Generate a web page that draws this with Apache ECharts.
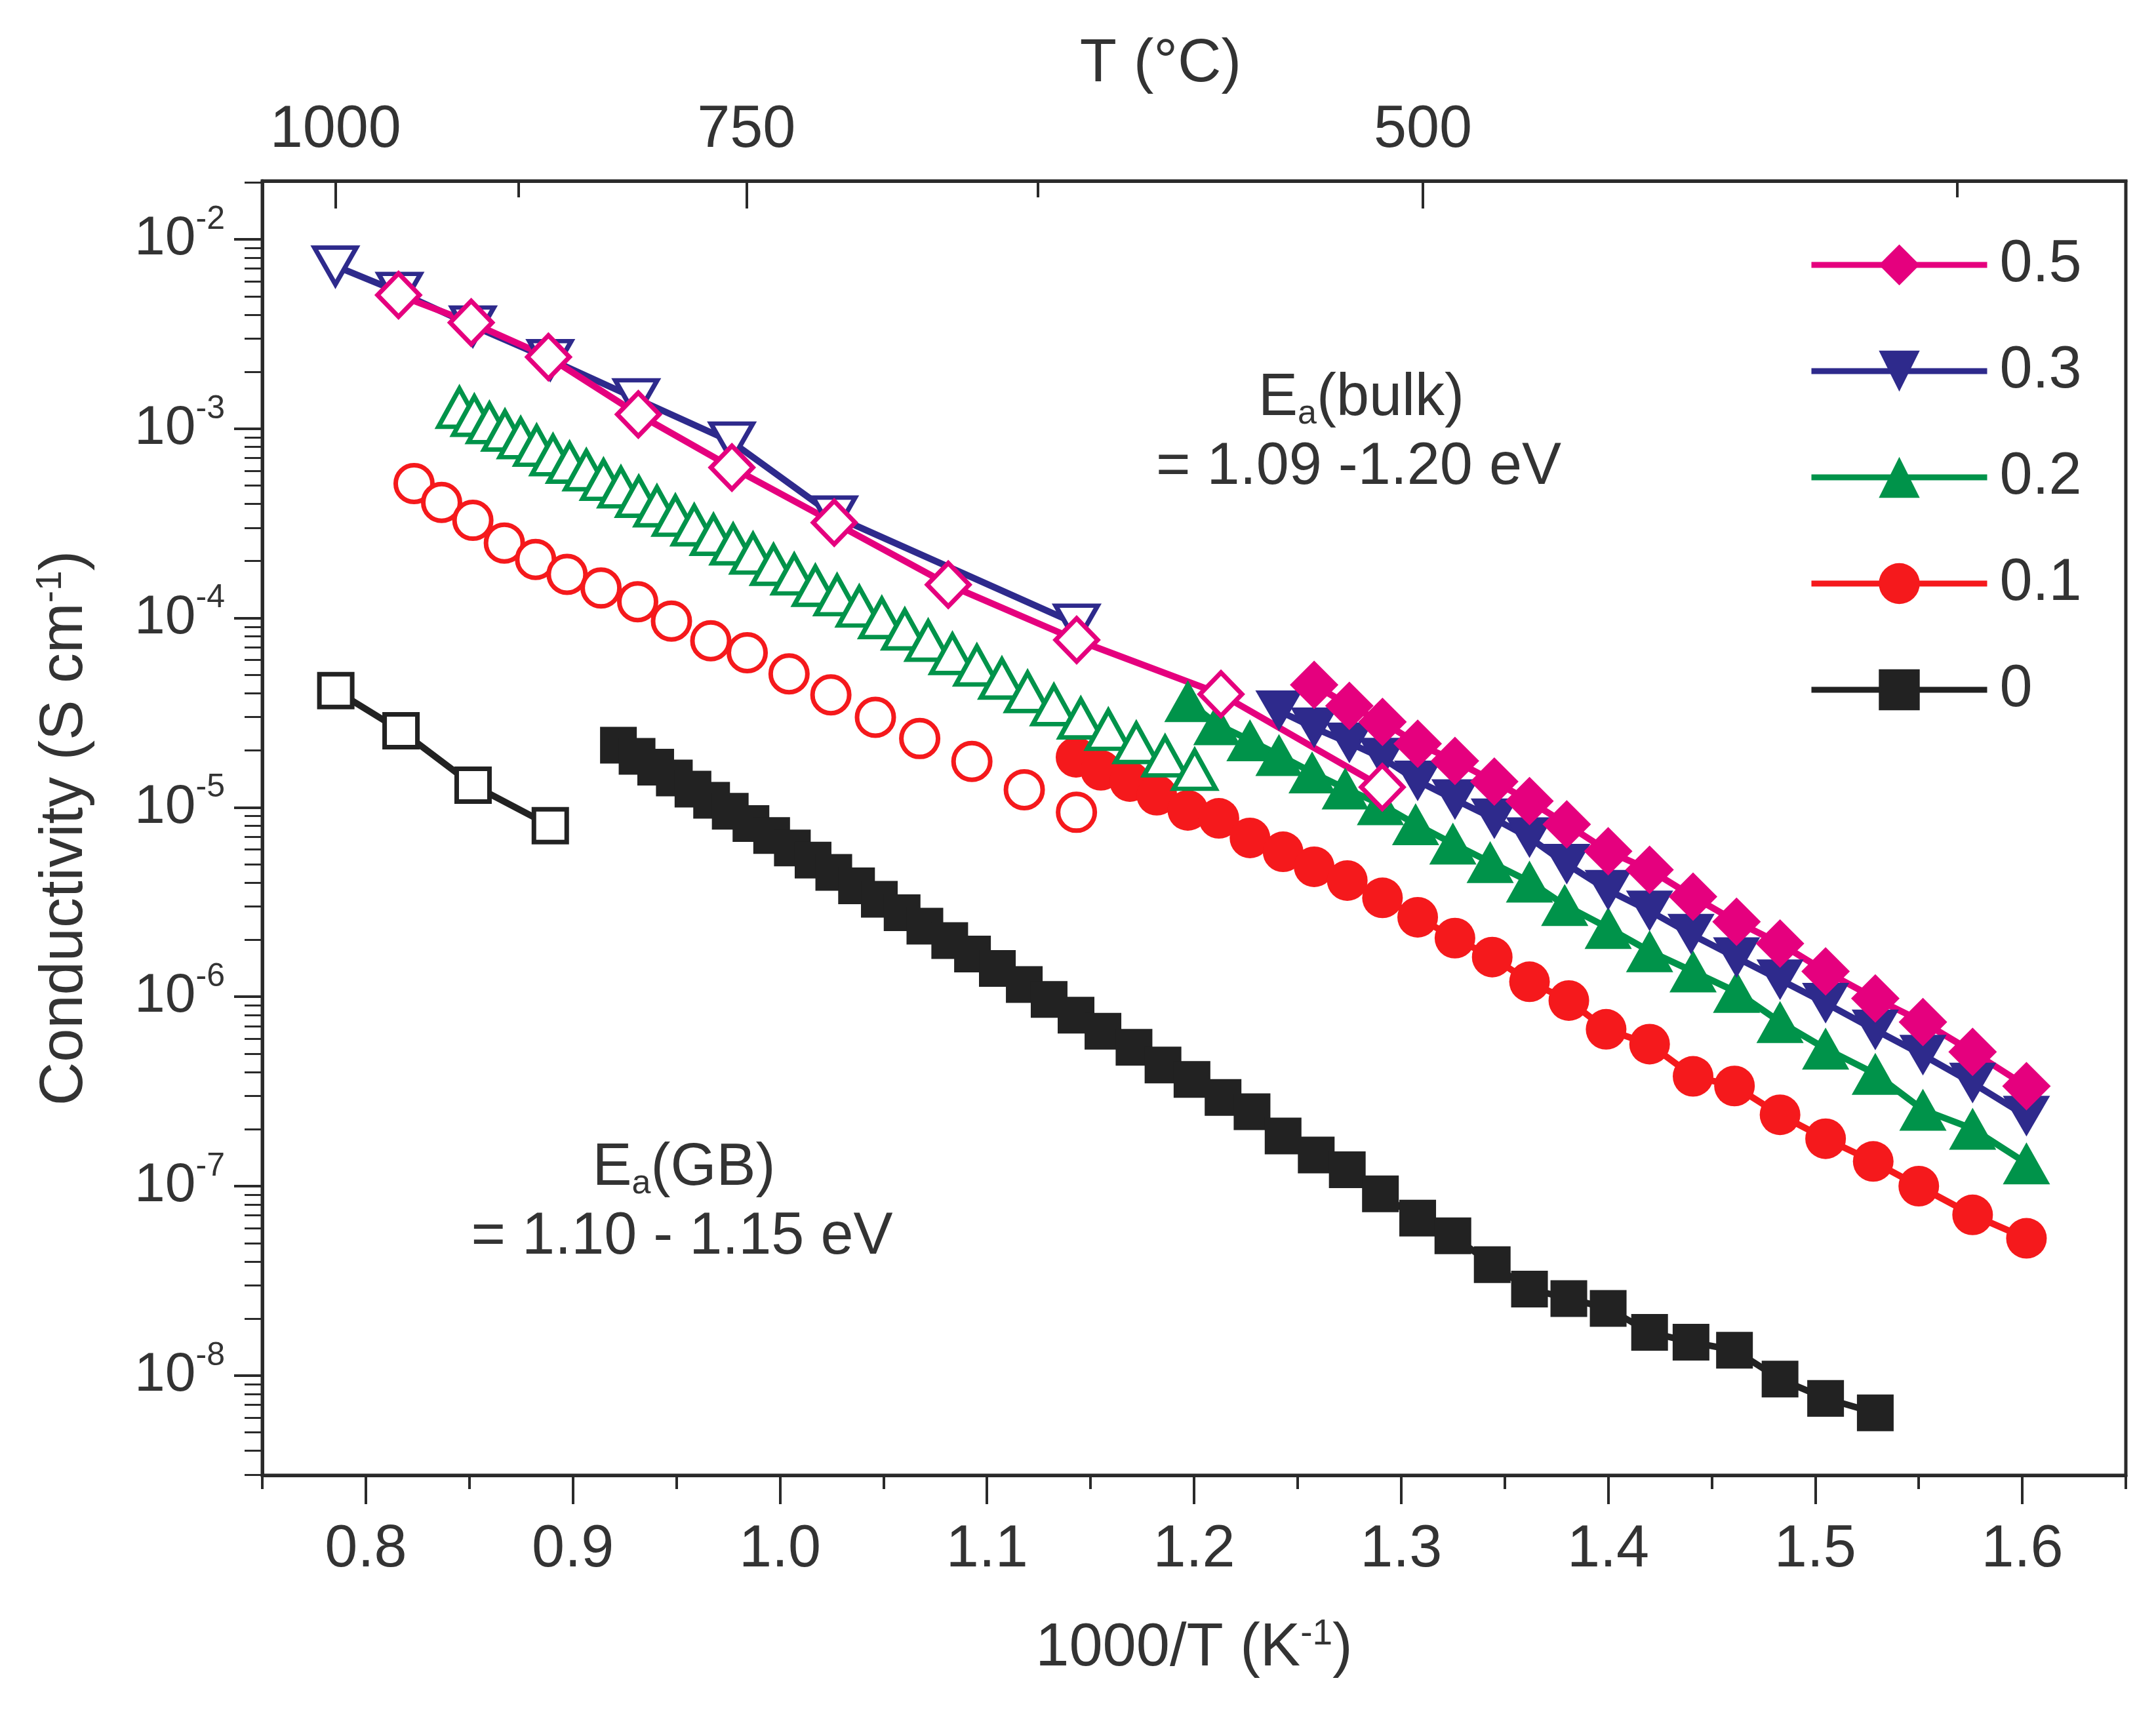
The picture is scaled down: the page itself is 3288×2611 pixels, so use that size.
<!DOCTYPE html>
<html>
<head>
<meta charset="utf-8">
<script src="https://cdn.jsdelivr.net/npm/echarts@6/dist/echarts.min.js"></script>
<style>
html, body { margin: 0; padding: 0; background: #fff; }
#chart { width: 3288px; height: 2611px; }
</style>
</head>
<body>
<div id="chart"></div>
<script>

// conductivity vs 1000/T, x in K^-1, y in S cm^-1

var legendNames = ['0.5', '0.3', '0.2', '0.1', '0'];

var x05Filled = [1.258, 1.275, 1.291, 1.308, 1.326, 1.345, 1.362, 1.380, 1.400, 1.420, 1.441, 1.462, 1.483, 1.505, 1.529, 1.552, 1.576, 1.602];
var y05Filled = [4.44e-5, 3.44e-5, 2.83e-5, 2.17e-5, 1.76e-5, 1.37e-5, 1.08e-5, 8.13e-6, 5.87e-6, 4.68e-6, 3.38e-6, 2.49e-6, 1.91e-6, 1.36e-6, 9.8e-7, 7.36e-7, 5.12e-7, 3.37e-7];
var x05Open = [0.8158, 0.8509, 0.8882, 0.9316, 0.9768, 1.0262, 1.0813, 1.1433, 1.2130, 1.2909];
var y05Open = [5.08e-3, 3.63e-3, 2.39e-3, 1.19e-3, 6.24e-4, 3.19e-4, 1.50e-4, 7.66e-5, 3.96e-5, 1.28e-5];

var x03Filled = [1.241, 1.258, 1.275, 1.291, 1.308, 1.326, 1.345, 1.362, 1.380, 1.400, 1.420, 1.440, 1.462, 1.483, 1.505, 1.529, 1.552, 1.576, 1.602];
var y03Filled = [3.24e-5, 2.63e-5, 2.19e-5, 1.82e-5, 1.38e-5, 1.10e-5, 8.71e-6, 6.92e-6, 5.01e-6, 3.65e-6, 2.84e-6, 2.14e-6, 1.61e-6, 1.23e-6, 9.25e-7, 6.68e-7, 4.92e-7, 3.50e-7, 2.34e-7];
var x03Open = [0.7853, 0.8163, 0.8517, 0.8891, 0.9306, 0.9768, 1.0262, 1.1433];
var y03Open = [7.23e-3, 5.25e-3, 3.49e-3, 2.32e-3, 1.44e-3, 8.51e-4, 3.46e-4, 9.3e-5];

var x02Filled = [1.197, 1.211, 1.227, 1.241, 1.257, 1.273, 1.290, 1.307, 1.325, 1.343, 1.362, 1.379, 1.400, 1.420, 1.441, 1.462, 1.483, 1.505, 1.529, 1.552, 1.576, 1.602];
var y02Filled = [3.64e-5, 2.75e-5, 2.26e-5, 1.89e-5, 1.53e-5, 1.26e-5, 1.04e-5, 8.15e-6, 6.44e-6, 5.14e-6, 4.06e-6, 3.05e-6, 2.31e-6, 1.74e-6, 1.36e-6, 1.06e-6, 7.36e-7, 5.32e-7, 3.92e-7, 2.53e-7, 2.01e-7, 1.32e-7];
var x02Open = [0.8452, 0.8524, 0.8597, 0.8672, 0.8748, 0.8825, 0.8904, 0.8984, 0.9065, 0.9148, 0.9232, 0.9318, 0.9406, 0.9495, 0.9586, 0.9679, 0.9774, 0.9870, 0.9969, 1.0069, 1.0171, 1.0276, 1.0383, 1.0492, 1.0603, 1.0716, 1.0833, 1.0951, 1.1072, 1.1196, 1.1323, 1.1453, 1.1586, 1.1721, 1.1860, 1.2003];
var y02Open = [1.29e-3, 1.17e-3, 1.07e-3, 9.77e-4, 8.91e-4, 8.13e-4, 7.24e-4, 6.61e-4, 6.03e-4, 5.37e-4, 4.90e-4, 4.37e-4, 3.89e-4, 3.47e-4, 3.09e-4, 2.75e-4, 2.45e-4, 2.19e-4, 1.91e-4, 1.70e-4, 1.48e-4, 1.32e-4, 1.15e-4, 1.00e-4, 8.71e-5, 7.59e-5, 6.46e-5, 5.62e-5, 4.79e-5, 4.07e-5, 3.47e-5, 2.95e-5, 2.57e-5, 2.19e-5, 1.86e-5, 1.58e-5];

var x01Filled = [1.143, 1.155, 1.169, 1.182, 1.197, 1.212, 1.227, 1.243, 1.258, 1.274, 1.291, 1.308, 1.326, 1.344, 1.362, 1.381, 1.399, 1.420, 1.441, 1.461, 1.483, 1.505, 1.528, 1.550, 1.576, 1.602];
var y01Filled = [1.84e-5, 1.57e-5, 1.37e-5, 1.16e-5, 9.64e-6, 8.75e-6, 6.90e-6, 5.83e-6, 4.86e-6, 4.11e-6, 3.33e-6, 2.63e-6, 2.04e-6, 1.62e-6, 1.20e-6, 9.55e-7, 6.73e-7, 5.62e-7, 3.80e-7, 3.38e-7, 2.38e-7, 1.78e-7, 1.35e-7, 1.00e-7, 7.05e-8, 5.30e-8];
var x01Open = [0.8233, 0.8366, 0.8517, 0.8669, 0.8820, 0.8972, 0.9136, 0.9313, 0.9476, 0.9666, 0.9842, 1.0044, 1.0246, 1.0461, 1.0675, 1.0927, 1.1180, 1.1432];
var y01Open = [5.13e-4, 4.08e-4, 3.28e-4, 2.49e-4, 2.04e-4, 1.70e-4, 1.44e-4, 1.22e-4, 9.64e-5, 7.59e-5, 6.56e-5, 5.07e-5, 3.93e-5, 2.99e-5, 2.31e-5, 1.75e-5, 1.24e-5, 9.42e-6];

var x0Filled = [0.922, 0.931, 0.940, 0.949, 0.958, 0.967, 0.976, 0.986, 0.996, 1.006, 1.016, 1.026, 1.037, 1.048, 1.059, 1.070, 1.082, 1.093, 1.105, 1.118, 1.130, 1.143,
                1.156, 1.171, 1.185, 1.199, 1.214, 1.228, 1.243, 1.259, 1.274, 1.290, 1.308, 1.325, 1.344, 1.362, 1.381, 1.400, 1.420, 1.440, 1.461, 1.483, 1.505, 1.529];
var y0Filled = [2.13e-5, 1.86e-5, 1.63e-5, 1.43e-5, 1.25e-5, 1.09e-5, 9.55e-6, 8.22e-6, 7.10e-6, 6.11e-6, 5.27e-6, 4.54e-6, 3.85e-6, 3.27e-6, 2.78e-6, 2.36e-6, 1.98e-6, 1.68e-6, 1.41e-6, 1.16e-6, 9.68e-7, 8.00e-7,
                6.58e-7, 5.41e-7, 4.36e-7, 3.66e-7, 2.94e-7, 2.47e-7, 1.84e-7, 1.46e-7, 1.22e-7, 9.10e-8, 6.78e-8, 5.47e-8, 3.85e-8, 2.86e-8, 2.55e-8, 2.26e-8, 1.69e-8, 1.50e-8, 1.36e-8, 9.57e-9, 7.57e-9, 6.35e-9];
var x0Open = [0.7855, 0.8170, 0.8518, 0.8891];
var y0Open = [4.14e-5, 2.54e-5, 1.31e-5, 8.0e-6];

// axes
var xTicks = [0.8, 0.9, 1.0, 1.1, 1.2, 1.3, 1.4, 1.5, 1.6];
var xMinorTicks = [0.75, 0.85, 0.95, 1.05, 1.15, 1.25, 1.35, 1.45, 1.55, 1.65];
var yTickExps = [-8, -7, -6, -5, -4, -3, -2];
var topTempMajor = [1000, 750, 500];
var topTempMinor = [875, 625, 375];

var yMinExp = -8.527, yMaxExp = -1.692;

var FONT = '"Liberation Sans", Arial, sans-serif';
var TXT = '#333333';
var AX = '#2a2a2a';
var LW = 10;

function invT(t) { return 1000 / (t + 273.15); }

var yMinor = [];
for (var n = -9; n <= -2; n++) {
    for (var k = 2; k <= 9; k++) {
        var e = n + Math.log10(k);
        if (e > yMinExp && e < yMaxExp) yMinor.push(e);
    }
}

function pairs(xs, ys) {
    return xs.map(function (x, i) { return [x, ys[i]]; });
}

function makeSeries(name, xs, ys, shape, size, color, filled, lineOn) {
    return {
        name: name,
        type: 'line',
        xAxisIndex: 0,
        yAxisIndex: 0,
        data: pairs(xs, ys),
        symbol: shape === 'down' ? 'triangle' : shape,
        symbolRotate: shape === 'down' ? 180 : 0,
        symbolSize: size,
        showSymbol: true,
        itemStyle: filled ? { color: color } : { color: '#ffffff', borderColor: color, borderWidth: 7 },
        lineStyle: { color: color, width: LW, opacity: lineOn ? 1 : 0 },
        emphasis: { disabled: true }
    };
}

var cMag = '#e5007e', cNavy = '#2e2a8c', cGreen = '#00934a', cRed = '#f5191c', cBlack = '#222222';

var series = [
    makeSeries('0', x0Filled, y0Filled, 'rect', 56, cBlack, true, true),
    makeSeries('0.1', x01Filled, y01Filled, 'circle', 62, cRed, true, true),
    makeSeries('0.2', x02Filled, y02Filled, 'triangle', [72, 64], cGreen, true, true),
    makeSeries('0.3', x03Filled, y03Filled, 'down', [72, 62], cNavy, true, true),
    makeSeries('0.5', x05Filled, y05Filled, 'diamond', [74, 74], cMag, true, true),
    makeSeries('0', x0Open, y0Open, 'rect', 50, cBlack, false, true),
    makeSeries('0.1', x01Open, y01Open, 'circle', 56, cRed, false, false),
    makeSeries('0.2', x02Open, y02Open, 'triangle', [64, 58], cGreen, false, false),
    makeSeries('0.3', x03Open, y03Open, 'down', [64, 56], cNavy, false, true),
    makeSeries('0.5', x05Open, y05Open, 'diamond', [64, 66], cMag, false, true)
];

var supName = {
    n: { fontSize: 92, fontFamily: FONT, color: TXT, lineHeight: 100 },
    p: { fontSize: 55, fontFamily: FONT, color: TXT, lineHeight: 55, verticalAlign: 'top' }
};

var myChart = echarts.init(document.getElementById('chart'));

var option = {
    animation: false,
    backgroundColor: '#ffffff',
    grid: {
        left: 400, right: 46, top: 276, bottom: 361,
        show: true, borderColor: AX, borderWidth: 5,
        outerBoundsMode: 'none'
    },
    legend: {
        data: legendNames,
        orient: 'vertical',
        left: 2758,
        top: 359,
        padding: 0,
        itemWidth: 268,
        itemHeight: 78,
        itemGap: 72,
        selectedMode: false,
        lineStyle: { width: 9 },
        textStyle: { fontSize: 90, fontFamily: FONT, color: TXT, lineHeight: 78, padding: [0, 0, 0, 14] }
    },
    xAxis: [
        {
            type: 'value', min: 0.75, max: 1.65, position: 'bottom',
            axisLine: { show: true, onZero: false, lineStyle: { color: AX, width: 5 } },
            axisTick: { show: true, inside: false, length: 44, customValues: xTicks, lineStyle: { color: AX, width: 4 } },
            axisLabel: {
                show: true, customValues: xTicks, margin: 69, fontSize: 90, lineHeight: 90,
                fontFamily: FONT, color: TXT,
                formatter: function (v) { return v.toFixed(1); }
            },
            splitLine: { show: false },
            name: '{n|1000/T (K}{p|-1}{n|)}',
            nameLocation: 'middle', nameGap: 215, nameMoveOverlap: false,
            nameTextStyle: { rich: supName }
        },
        {
            type: 'value', min: 0.75, max: 1.65, position: 'bottom',
            axisLine: { show: false },
            axisTick: { show: true, inside: false, length: 21, customValues: xMinorTicks, lineStyle: { color: AX, width: 4 } },
            axisLabel: { show: false },
            splitLine: { show: false }
        },
        {
            type: 'value', min: 0.7512, max: 1.6218, position: 'top',
            axisLine: { show: true, onZero: false, lineStyle: { color: AX, width: 5 } },
            axisTick: { show: true, inside: true, length: 42, customValues: topTempMajor.map(invT), lineStyle: { color: AX, width: 4 } },
            axisLabel: {
                show: true, customValues: topTempMajor.map(invT), margin: 32, fontSize: 90, lineHeight: 90,
                fontFamily: FONT, color: TXT,
                formatter: function (v) { return String(Math.round(1000 / v - 273.15)); }
            },
            splitLine: { show: false },
            name: 'T (°C)',
            nameLocation: 'middle', nameGap: 127, nameMoveOverlap: false,
            nameTextStyle: { fontSize: 92, fontFamily: FONT, color: TXT, lineHeight: 100, padding: [0, 102, 0, 0] }
        },
        {
            type: 'value', min: 0.7512, max: 1.6218, position: 'top',
            axisLine: { show: false },
            axisTick: { show: true, inside: true, length: 25, customValues: topTempMinor.map(invT), lineStyle: { color: AX, width: 4 } },
            axisLabel: { show: false },
            splitLine: { show: false }
        }
    ],
    yAxis: [
        {
            type: 'log', logBase: 10,
            min: Math.pow(10, yMinExp), max: Math.pow(10, yMaxExp),
            show: false,
            splitLine: { show: false }
        },
        {
            type: 'value', min: yMinExp, max: yMaxExp, position: 'left',
            axisLine: { show: true, onZero: false, lineStyle: { color: AX, width: 5 } },
            axisTick: { show: true, inside: false, length: 43, customValues: yTickExps, lineStyle: { color: AX, width: 4 } },
            axisLabel: {
                show: true, customValues: yTickExps, margin: 57,
                formatter: function (v) { return '{b|10}{p|' + v + '}'; },
                rich: {
                    b: { fontSize: 84, fontFamily: FONT, color: TXT, lineHeight: 110 },
                    p: { fontSize: 50, fontFamily: FONT, color: TXT, lineHeight: 50, verticalAlign: 'top' }
                }
            },
            splitLine: { show: false },
            name: '{n|Conductivity (S cm}{p|-1}{n|)}',
            nameLocation: 'middle', nameGap: 250, nameMoveOverlap: false,
            nameTextStyle: { rich: supName }
        },
        {
            type: 'value', min: yMinExp, max: yMaxExp, position: 'left',
            axisLine: { show: false },
            axisTick: { show: true, inside: false, length: 27, customValues: yMinor, lineStyle: { color: AX, width: 3 } },
            axisLabel: { show: false },
            splitLine: { show: false }
        }
    ],
    graphic: [
        {
            type: 'text', x: 2076, y: 608,
            style: {
                text: '{m|E}{s|a}{m|(bulk)}', align: 'center', verticalAlign: 'middle',
                rich: {
                    m: { fontSize: 90, fontFamily: FONT, fill: TXT, lineHeight: 100 },
                    s: { fontSize: 52, fontFamily: FONT, fill: TXT, lineHeight: 40, verticalAlign: 'bottom' }
                }
            }
        },
        {
            type: 'text', x: 2072, y: 713,
            style: { text: '= 1.09 -1.20 eV', align: 'center', verticalAlign: 'middle', fontSize: 90, fontFamily: FONT, fill: TXT }
        },
        {
            type: 'text', x: 1043, y: 1782,
            style: {
                text: '{m|E}{s|a}{m|(GB)}', align: 'center', verticalAlign: 'middle',
                rich: {
                    m: { fontSize: 90, fontFamily: FONT, fill: TXT, lineHeight: 100 },
                    s: { fontSize: 52, fontFamily: FONT, fill: TXT, lineHeight: 40, verticalAlign: 'bottom' }
                }
            }
        },
        {
            type: 'text', x: 1040, y: 1887,
            style: { text: '= 1.10 - 1.15 eV', align: 'center', verticalAlign: 'middle', fontSize: 90, fontFamily: FONT, fill: TXT }
        }
    ],
    series: series
};

myChart.setOption(option);

window.addEventListener('resize', function () {
    myChart.resize();
});

</script>
</body>
</html>
